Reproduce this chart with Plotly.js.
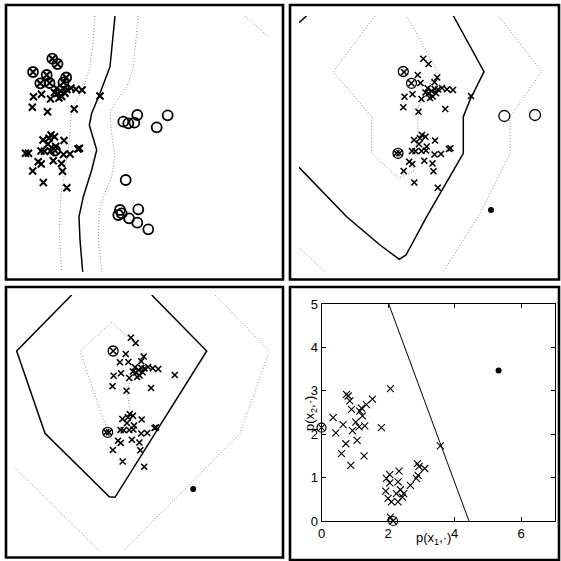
<!DOCTYPE html>
<html>
<head>
<meta charset="utf-8">
<script src="https://cdn.plot.ly/plotly-3.0.1.min.js"></script>
<style>html,body{margin:0;padding:0;background:#fff;}#chart{width:561px;height:561px;}</style>
</head>
<body>
<div id="chart"></div>
<script>
// ---------- Feature-space data (panels 1-3 share the target objects) ----------
const targetX = [3.73,4.25,1.80,3.17,5.12,2.53,3.45,4.85,1.85,2.65,3.55,3.95,4.25,4.55,4.87,5.20,5.60,6.10,6.70,4.40,1.73,3.25,5.92,8.50,4.17,5.00,4.67,
                 3.60,3.95,2.80,3.40,4.90,3.30,4.07,2.95,2.60,3.55,4.00,1.05,1.35,4.85,5.50,6.30,6.45,2.32,2.62,3.83,4.65,1.77,4.75,2.83,5.18];
const targetY = [21.33,20.80,20.00,19.70,19.45,18.87,18.90,18.97,17.53,17.77,17.30,17.95,17.85,18.10,18.30,18.25,18.40,18.27,18.20,17.40,16.47,16.03,16.30,17.60,18.37,17.87,17.55,
                 13.70,13.53,13.20,13.37,13.15,12.80,12.55,12.07,12.10,12.10,12.15,11.87,11.87,11.75,11.80,12.30,12.37,11.03,10.80,11.13,10.85,10.10,10.07,8.95,8.43];
const outlierX = [10.83,11.33,11.93,12.23,14.17,15.27,11.07,10.50,10.67,10.33,12.33,11.40,12.23,13.33];
const outlierY = [15.03,14.87,14.93,15.70,14.47,15.67,9.20,6.20,5.87,5.70,6.27,5.37,4.93,4.27];
const p1ProtoX = [3.73,4.25,1.80,3.17,5.12,2.53,3.45,4.85,4.00];
const p1ProtoY = [21.33,20.80,20.00,19.70,19.45,18.87,18.90,18.97,12.15];
const p2ProtoX = [1.73,2.55,1.20];
const p2ProtoY = [20.05,18.87,11.87];
const p3ProtoX = [1.80,1.20];
const p3ProtoY = [20.00,11.87];
const p2OutX = [11.83,14.90];
const p2OutY = [15.60,15.70];
const testX = [10.50];
const testY = [6.20];

// Panel 1 decision contours
const p1BoundX = [10.0,9.5,8.5,7.67,7.43,7.83,8.17,7.67,6.83,6.4,6.5,6.77];
const p1BoundY = [25.6,20.53,17.87,15.87,14.7,13.2,12.2,10.2,7.53,5.53,3.2,0.03];
const p1InnerX = [8.0,7.83,7.5,6.83,6.0,5.57,5.5,5.33,5.0,4.67,4.5,4.43,4.67];
const p1InnerY = [25.6,23.2,20.53,18.37,16.87,15.53,13.87,12.2,10.2,8.2,6.53,3.87,0.03];
const p1OuterX = [12.33,12.17,11.83,11.17,10.0,9.5,9.67,10.0,9.67,8.83,8.4,8.33,8.67];
const p1OuterY = [25.6,23.87,20.53,18.53,16.87,15.87,13.87,11.53,9.53,7.53,5.87,3.2,0.03];
const p1CornerX = [23.0,25.33];
const p1CornerY = [25.6,23.53];

// Panel 2 contours
const p2BoundX = [6.73,9.8,8.4,7.73,7.73,6.4,4.07,2.0,1.33,-0.6,-3.93,-8.7];
const p2BoundY = [25.63,20.03,17.2,15.53,11.87,9.53,5.53,1.7,1.27,2.7,5.53,10.47];
const p2CornerX = [-8.7,-7.93];
const p2CornerY = [24.93,25.63];
const p2InnerX = [-1.1,-5.27,-1.43,-1.43,1.23,2.73,3.2,3.2,5.07,2.07];
const p2InnerY = [25.63,20.03,15.53,11.87,9.37,10.03,13.87,16.37,20.2,25.63];
const p2OuterX = [11.23,15.57,12.4,12.4,9.4,5.73];
const p2OuterY = [25.63,20.03,15.53,11.87,5.87,0.03];
const p2LowX = [-8.6,-6.1];
const p2LowY = [2.37,0.03];

// Panel 3 contours
const p3BoundX = [-2.71,-8.69,-5.61,1.38,2.0,11.97,5.99];
const p3BoundY = [25.6,20.0,11.77,5.43,5.37,20.0,25.6];
const p3InnerX = [1.64,-1.8,0.37,1.46,3.81,3.27,5.08,1.64];
const p3InnerY = [22.87,20.0,14.1,11.43,13.1,16.1,19.93,22.87];
const p3OuterX = [12.87,18.78,15.59,3.09];
const p3OuterY = [25.6,20.0,11.77,0.17];
const p3LowX = [-8.87,0.37];
const p3LowY = [8.33,-0.07];

// ---------- Dissimilarity-space data (panel 4) ----------
const dissX = [0.35,0.43,0.60,0.65,0.73,0.75,0.80,0.85,0.88,0.90,0.93,1.03,1.07,1.13,1.15,1.20,1.23,1.30,1.28,1.35,1.53,1.80,2.07,0.00,
               1.95,1.93,2.00,2.05,2.05,2.10,2.07,2.15,2.33,2.30,2.25,2.30,2.37,2.43,2.47,2.67,2.85,2.88,2.93,2.90,3.10,3.57];
const dissY = [2.38,2.03,1.55,2.22,1.78,2.92,2.88,2.77,1.28,2.57,2.08,2.28,1.86,2.17,2.53,2.60,2.42,2.19,1.50,2.68,2.81,2.15,3.05,2.15,
               0.98,0.69,0.52,1.07,0.88,0.44,0.09,0.00,1.15,0.90,0.63,0.44,0.72,0.55,0.63,0.82,0.98,1.32,1.26,1.05,1.21,1.73];
const dissProtoX = [0.00,2.15];
const dissProtoY = [2.15,0.00];
const dissTestX = [5.32];
const dissTestY = [3.47];
const dissLineX = [2.02,4.43];
const dissLineY = [5.00,0.00];
const p4TickX = [0,2,4,6];
const p4TickY = [0,1,2,3,4,5];
const p4TitleX = 'p(x<sub>1</sub>,·)';
const p4TitleY = 'p(x<sub>2</sub>,·)';

// ---------- helpers ----------
const DOT = {color:'#8a8a8a', width:1, dash:'1px,2px'};
function line(x, y, ax, style){
  return {x:x, y:y, xaxis:'x'+ax, yaxis:'y'+ax, mode:'lines', line:style, hoverinfo:'skip', showlegend:false};
}
function pts(x, y, ax, symbol, size, lw){
  return {x:x, y:y, xaxis:'x'+ax, yaxis:'y'+ax, mode:'markers', cliponaxis:false, hoverinfo:'skip', showlegend:false,
          marker:{symbol:symbol, size:size, color:'#000', line:{color:'#000', width:lw}}};
}
const SOLID = {color:'#000', width:1.5};

const traces = [
  // panel 1
  line(p1InnerX, p1InnerY, '', DOT), line(p1OuterX, p1OuterY, '', DOT), line(p1CornerX, p1CornerY, '', DOT),
  line(p1BoundX, p1BoundY, '', SOLID),
  pts(targetX, targetY, '', 'x-thin-open', 7, 2),
  pts(p1ProtoX, p1ProtoY, '', 'circle-open', 10, 1.8),
  pts(outlierX, outlierY, '', 'circle-open', 10, 1.8),
  // panel 2
  line(p2InnerX, p2InnerY, '2', DOT), line(p2OuterX, p2OuterY, '2', DOT), line(p2LowX, p2LowY, '2', DOT),
  line(p2BoundX, p2BoundY, '2', SOLID), line(p2CornerX, p2CornerY, '2', SOLID),
  pts(targetX, targetY, '2', 'x-thin-open', 6, 1.6),
  pts(p2ProtoX, p2ProtoY, '2', 'circle-open', 10, 1.3),
  pts(p2OutX, p2OutY, '2', 'circle-open', 11, 1.3),
  pts(testX, testY, '2', 'circle', 6, 0),
  // panel 3
  line(p3InnerX, p3InnerY, '3', DOT), line(p3OuterX, p3OuterY, '3', DOT), line(p3LowX, p3LowY, '3', DOT),
  line(p3BoundX, p3BoundY, '3', SOLID),
  pts(targetX, targetY, '3', 'x-thin-open', 6, 1.6),
  pts(p3ProtoX, p3ProtoY, '3', 'circle-open', 10, 1.3),
  pts(testX, testY, '3', 'circle', 6, 0),
  // panel 4
  line(dissLineX, dissLineY, '4', {color:'#000', width:1}),
  pts(dissX, dissY, '4', 'x-thin-open', 7, 1.1),
  pts(dissProtoX, dissProtoY, '4', 'circle-open', 9, 1.2),
  pts(dissTestX, dissTestY, '4', 'circle', 6, 0)
];
traces.forEach(t => { if (t.xaxis === 'x') { t.xaxis = 'x'; t.yaxis = 'y'; } });

const W = 561, H = 561;
const fx = p => p / W, fy = p => 1 - p / H;
const hidden = (dom, rng, anchor) => ({domain:dom, range:rng, visible:false, fixedrange:true, anchor:anchor});

function frame(x0, y0, x1, y1){
  return {type:'rect', xref:'paper', yref:'paper', x0:fx(x0), x1:fx(x1), y0:fy(y1), y1:fy(y0),
          line:{color:'#000', width:2.6}, fillcolor:'rgba(0,0,0,0)', layer:'above'};
}

const FONT = 'Liberation Sans, Arial, Helvetica, sans-serif';
const axis4 = (dom, rng, anchor, vals) => ({domain:dom, range:rng, anchor:anchor, fixedrange:true,
  tickmode:'array', tickvals:vals, ticktext:vals.map(String), ticks:'inside', ticklen:4, tickcolor:'#000',
  showline:true, linecolor:'#000', linewidth:1, mirror:'ticks', showgrid:false, zeroline:false,
  tickfont:{family:FONT, size:13}});

const layout = {
  width:W, height:H, margin:{l:0, r:0, t:0, b:0}, paper_bgcolor:'#fff', plot_bgcolor:'rgba(0,0,0,0)', showlegend:false,
  font:{family:FONT, size:12, color:'#000'},
  xaxis: hidden([fx(15), fx(269)], [0, 25.4], 'y'),
  yaxis: hidden([fy(272), fy(16)], [0, 25.6], 'x'),
  xaxis2: hidden([fx(299), fx(553)], [-8.7, 16.7], 'y2'),
  yaxis2: hidden([fy(272), fy(16)], [0, 25.6], 'x2'),
  xaxis3: hidden([fx(15), fx(269)], [-8.87, 18.74], 'y3'),
  yaxis3: hidden([fy(552), fy(295)], [-0.1, 25.6], 'x3'),
  xaxis4: axis4([fx(321.5), fx(554.5)], [0,7], 'y4', p4TickX),
  yaxis4: axis4([fy(521), fy(304)], [0,5], 'x4', p4TickY),
  annotations:[
    {xref:'paper', yref:'paper', x:fx(434), y:fy(538), text:p4TitleX, showarrow:false, xanchor:'center', yanchor:'middle',
     font:{family:FONT, size:13}},
    {xref:'paper', yref:'paper', x:fx(310), y:fy(414), text:p4TitleY, showarrow:false, xanchor:'center', yanchor:'middle',
     textangle:-90, font:{family:FONT, size:13}}
  ],
  shapes:[frame(6,5,283,279.5), frame(290,5,559,279.5), frame(6,287,283,557.5), frame(290,287,559,560)]
};

Plotly.newPlot('chart', traces, layout, {staticPlot:true, displayModeBar:false});
</script>
</body>
</html>
